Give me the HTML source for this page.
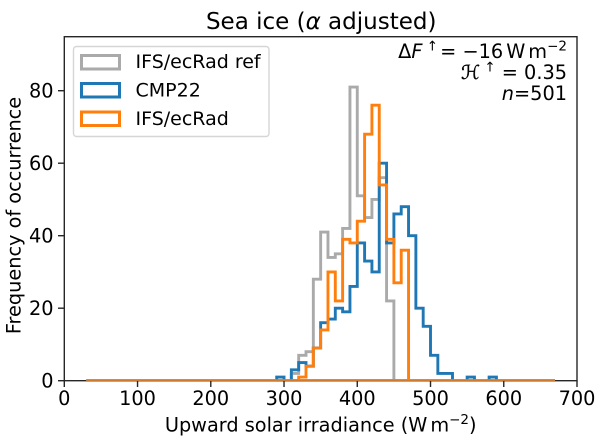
<!DOCTYPE html>
<html>
<head>
<meta charset="utf-8">
<title>Sea ice histogram</title>
<style>
html,body{margin:0;padding:0;background:#fff;}
svg{display:block;}
text{font-family:"DejaVu Sans","Liberation Sans",sans-serif;fill:#000;}
</style>
</head>
<body>
<svg id="chart" width="600" height="442" viewBox="0 0 600 442" xmlns="http://www.w3.org/2000/svg">
  <defs>
    <clipPath id="plot-clip"><rect x="64.3" y="36.7" width="512.7" height="344"/></clipPath>
  </defs>
  <rect x="0" y="0" width="600" height="442" fill="#fff"/>
  <g id="axes"></g>
  <g id="marks" clip-path="url(#plot-clip)"></g>
  <text x="321.2" y="29" font-size="23" text-anchor="middle">Sea ice (<tspan font-style="italic">α</tspan> adjusted)</text>
  <text x="320.7" y="431.5" font-size="19.3" text-anchor="middle">Upward solar irradiance (W<tspan font-size="9.5"> </tspan>m<tspan font-size="13.5" dy="-7.5">−2</tspan><tspan dy="7.5">)</tspan></text>
  <text transform="translate(20.7,215.5) rotate(-90)" font-size="19.3" text-anchor="middle">Frequency of occurrence</text>
  <g>
    <rect x="73.5" y="46.5" width="195.5" height="90" rx="3" ry="3" fill="#fff" fill-opacity="0.8" stroke="#d6d6d6" stroke-width="1.4"/>
    <rect x="81.5" y="55.5" width="38" height="13.5" fill="none" stroke="#aaaaaa" stroke-width="3"/>
    <text x="135.5" y="68" font-size="19">IFS/ecRad ref</text>
    <rect x="81.5" y="83.5" width="38" height="13.5" fill="none" stroke="#1f77b4" stroke-width="3"/>
    <text x="135.5" y="96.5" font-size="19">CMP22</text>
    <rect x="81.5" y="112" width="38" height="13.5" fill="none" stroke="#ff7f0e" stroke-width="3"/>
    <text x="135.5" y="125" font-size="19">IFS/ecRad</text>
  </g>
  <g font-size="19.3" text-anchor="end">
    <text x="567" y="58">Δ<tspan font-style="italic">F</tspan><tspan font-size="13.5" dy="-7.5"> ↑</tspan><tspan dy="7.5" dx="-4"> = −16</tspan><tspan font-size="9.5"> </tspan>W<tspan font-size="9.5"> </tspan>m<tspan font-size="13.5" dy="-7.5">−2</tspan></text>
    <text x="567" y="79"><tspan font-style="italic" stroke="#000" stroke-width="0.35">ℋ</tspan><tspan font-size="13.5" dy="-7.5"> ↑</tspan><tspan dy="7.5"> = 0.35</tspan></text>
    <text x="567" y="100"><tspan font-style="italic">n</tspan>=501</text>
  </g>
</svg>
<script>
const binStarts = [30,40,50,60,70,80,90,100,110,120,130,140,150,160,170,180,190,200,210,220,230,240,250,260,270,280,290,300,310,320,330,340,350,360,370,380,390,400,410,420,430,440,450,460,470,480,490,500,510,520,530,540,550,560,570,580,590,600,610,620,630,640,650,660];
const binWidth = 10;
const refValues = [0,0,0,0,0,0,0,0,0,0,0,0,0,0,0,0,0,0,0,0,0,0,0,0,0,0,0,0,2,7,8,28,41,34,35,42,81,51,45,50,56,22,0,0,0,0,0,0,0,0,0,0,0,0,0,0,0,0,0,0,0,0,0,0];
const cmpValues = [0,0,0,0,0,0,0,0,0,0,0,0,0,0,0,0,0,0,0,0,0,0,0,0,0,0,1,0,3,5,4,9,16,17,20,19,26,38,33,30,60,38,46,48,40,20,15,7,2,2,0,0,1,0,0,1,0,0,0,0,0,0,0,0];
const ifsValues = [0,0,0,0,0,0,0,0,0,0,0,0,0,0,0,0,0,0,0,0,0,0,0,0,0,0,0,0,0,1,4,9,14,30,22,39,38,44,68,76,54,39,27,36,0,0,0,0,0,0,0,0,0,0,0,0,0,0,0,0,0,0,0,0];
const xTicks = [0,100,200,300,400,500,600,700];
const yTicks = [0,20,40,60,80];

const NS = 'http://www.w3.org/2000/svg';
const plot = {left:64.3, right:577, top:36.7, bottom:380.7};
const xMax = 700, yMax = 94.9;
function xScale(v){ return plot.left + v / xMax * (plot.right - plot.left); }
function yScale(v){ return plot.bottom - v / yMax * (plot.bottom - plot.top); }
function make(tag, parent){ const el = document.createElementNS(NS, tag); parent.appendChild(el); return el; }

const marks = document.getElementById('marks');
const axes = document.getElementById('axes');

function stepPath(values){
  let d = 'M' + xScale(binStarts[0]).toFixed(2) + ' ' + yScale(0).toFixed(2);
  values.forEach(function(v, i){
    const x0 = xScale(binStarts[i]), x1 = xScale(binStarts[i] + binWidth), y = yScale(v);
    d += 'L' + x0.toFixed(2) + ' ' + y.toFixed(2) + 'L' + x1.toFixed(2) + ' ' + y.toFixed(2);
  });
  d += 'L' + xScale(binStarts[binStarts.length - 1] + binWidth).toFixed(2) + ' ' + yScale(0).toFixed(2) + 'Z';
  return d;
}

const refPath = make('path', marks);


refPath.setAttribute('d', stepPath(refValues));
refPath.setAttribute('stroke', '#aaaaaa');

const cmpPath = make('path', marks);


cmpPath.setAttribute('d', stepPath(cmpValues));
cmpPath.setAttribute('stroke', '#1f77b4');

const ifsPath = make('path', marks);


ifsPath.setAttribute('d', stepPath(ifsValues));
ifsPath.setAttribute('stroke', '#ff7f0e');

[refPath, cmpPath, ifsPath].forEach(function(p){
  p.setAttribute('fill', 'none');
  p.setAttribute('stroke-width', '2.9');
  p.setAttribute('stroke-linejoin', 'miter');
});

xTicks.forEach(function(t){
  const tick = make('line', axes);
  
  
  tick.setAttribute('x1', xScale(t));
  tick.setAttribute('x2', xScale(t));
  tick.setAttribute('y1', plot.bottom);
  tick.setAttribute('y2', plot.bottom + 6.3);
  tick.setAttribute('stroke', '#262626');
  tick.setAttribute('stroke-width', '1.4');
  const label = make('text', axes);
  
  
  label.setAttribute('x', xScale(t));
  label.setAttribute('y', 405);
  label.setAttribute('font-size', '19.3');
  label.setAttribute('text-anchor', 'middle');
  label.textContent = String(t);
});

yTicks.forEach(function(t){
  const tick = make('line', axes);
  
  
  tick.setAttribute('x1', plot.left - 6.3);
  tick.setAttribute('x2', plot.left);
  tick.setAttribute('y1', yScale(t));
  tick.setAttribute('y2', yScale(t));
  tick.setAttribute('stroke', '#262626');
  tick.setAttribute('stroke-width', '1.4');
  const label = make('text', axes);
  
  
  label.setAttribute('x', plot.left - 10.8);
  label.setAttribute('y', yScale(t) + 6.9);
  label.setAttribute('font-size', '19.3');
  label.setAttribute('text-anchor', 'end');
  label.textContent = String(t);
});

const frame = make('rect', axes);


frame.setAttribute('x', plot.left);
frame.setAttribute('y', plot.top);
frame.setAttribute('width', plot.right - plot.left);
frame.setAttribute('height', plot.bottom - plot.top);
frame.setAttribute('fill', 'none');
frame.setAttribute('stroke', '#262626');
frame.setAttribute('stroke-width', '1.4');
</script>
</body>
</html>
